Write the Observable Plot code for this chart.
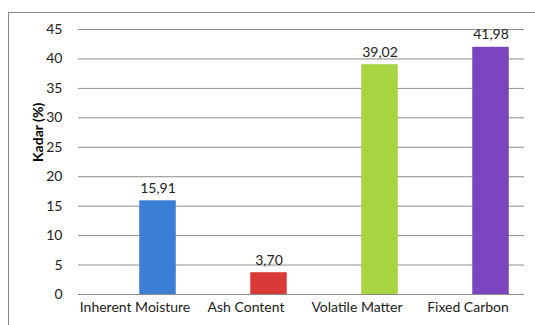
<!DOCTYPE html>
<html>
<head>
<meta charset="utf-8">
<script src="https://cdn.jsdelivr.net/npm/d3@7"></script>
<script src="https://cdn.jsdelivr.net/npm/@observablehq/plot@0.6"></script>
<style>
  html, body { margin: 0; padding: 0; background: #fff; }
  #wrap { position: relative; width: 535px; height: 325px; overflow: hidden; }
  #frame { position: absolute; left: 8px; top: 12px; width: 600px; height: 400px; border: 1px solid #8a8a8a; box-sizing: border-box; pointer-events: none; }
  #chart { position: absolute; left: 0; top: 0; }
</style>
</head>
<body>
<div id="wrap"><div id="frame"></div><div id="chart"></div></div>
<script>
const categories = ["Inherent Moisture", "Ash Content", "Volatile Matter", "Fixed Carbon"];
const values = [15.91, 3.70, 39.02, 41.98];
const colors = ["#3a7ed6", "#d93a38", "#a7d441", "#7b45bf"];
const yTicks = [0, 5, 10, 15, 20, 25, 30, 35, 40, 45];
const yLabel = "Kadar (%)";

const data = categories.map((c, i) => ({cat: c, value: values[i], color: colors[i]}));
const fmt = v => v.toFixed(2).replace(".", ",");
const font = "Lato, 'Open Sans', sans-serif";

const chart = Plot.plot({
  width: 535,
  height: 325,
  marginLeft: 78,
  marginRight: 11,
  marginTop: 29,
  marginBottom: 31,
  style: {fontFamily: font, fontSize: "14px", color: "#222", background: "transparent"},
  x: {domain: categories, padding: 0, label: null},
  y: {domain: [0, 45], label: null},
  color: {type: "identity"},
  marks: [
    Plot.gridY(yTicks, {stroke: "#8c8c8c", strokeOpacity: 1}),
    Plot.ruleY([0], {stroke: "#8c8c8c", strokeWidth: 1.2}),
    Plot.barY(data, {x: "cat", y: "value", fill: "color", insetLeft: 37.25, insetRight: 37.25, dx: 23}),
    Plot.text(data, {x: "cat", y: "value", text: d => fmt(d.value), dx: 23, dy: -8, lineAnchor: "bottom", fontSize: 14, fill: "#222"}),
    Plot.axisY(yTicks, {tickSize: 0, tickPadding: 16, label: null, fontSize: 14}),
    Plot.axisX({tickSize: 0, tickPadding: 8, label: null, fontSize: 14}),
    Plot.text([yLabel], {frameAnchor: "left", dx: -40, rotate: -90, fontWeight: "bold", fontSize: 14, fill: "#000"})
  ]
});
document.getElementById("chart").appendChild(chart);
</script>
</body>
</html>
